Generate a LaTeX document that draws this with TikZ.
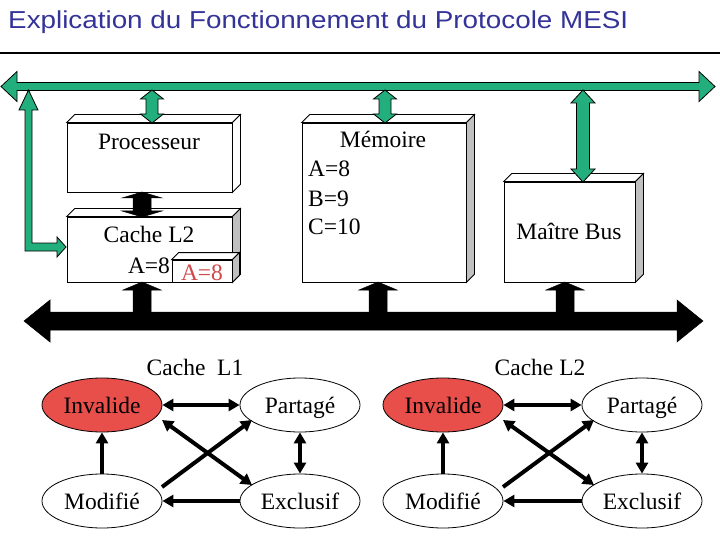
\documentclass[tikz,border=0pt]{standalone}
\usepackage{graphicx}
\usepackage{fontspec}
\setmainfont{Liberation Serif}
\newfontfamily\titlefont{Liberation Sans}
\usetikzlibrary{arrows.meta,shapes.geometric,calc}
\definecolor{busgreen}{RGB}{35,175,125}
\definecolor{titleblue}{RGB}{51,51,153}
\definecolor{statered}{RGB}{232,78,74}
\definecolor{textred}{RGB}{208,72,72}
\definecolor{sidegrey}{RGB}{192,192,192}
\newcommand{\hbiarrow}[7]{%
  \filldraw[#1] (#2,#4) -- ({#2+#7},{#4-#6}) -- ({#2+#7},{#4-#5}) -- ({#3-#7},{#4-#5}) -- ({#3-#7},{#4-#6}) -- (#3,#4) -- ({#3-#7},{#4+#6}) -- ({#3-#7},{#4+#5}) -- ({#2+#7},{#4+#5}) -- ({#2+#7},{#4+#6}) -- cycle;}
\newcommand{\vbiarrow}[7]{%
  \filldraw[#1] (#2,#3) -- ({#2+#6},{#3+#7}) -- ({#2+#5},{#3+#7}) -- ({#2+#5},{#4-#7}) -- ({#2+#6},{#4-#7}) -- (#2,#4) -- ({#2-#6},{#4-#7}) -- ({#2-#5},{#4-#7}) -- ({#2-#5},{#3+#7}) -- ({#2-#6},{#3+#7}) -- cycle;}
\newcommand{\vuparrow}[7]{%
  \filldraw[#1] (#2,#3) -- ({#2+#6},{#3+#7}) -- ({#2+#5},{#3+#7}) -- ({#2+#5},#4) -- ({#2-#5},#4) -- ({#2-#5},{#3+#7}) -- ({#2-#6},{#3+#7}) -- cycle;}
\newcommand{\boxfaces}[3]{%
  \filldraw[facestyle, fill=white] (#1.north west) -- ++(#2,-#2) -- ($(#1.north east)+(#2,-#2)$) -- (#1.north east) -- cycle;
  \filldraw[facestyle, fill=#3] (#1.north east) -- ++(#2,-#2) -- ($(#1.south east)+(#2,-#2)$) -- (#1.south east) -- cycle;}
\tikzset{
  facestyle/.style={draw=black, line width=0.8},
  greenarrow/.style={fill=busgreen, draw=black, line width=0.8},
  blackarrow/.style={fill=black, draw=black, line width=0.5},
  boxnode/.style={draw=black, fill=white, line width=0.8, rectangle, inner sep=0pt},
  txt/.style={inner sep=0pt, font=\fontsize{23.5}{28}\selectfont},
  state/.style={ellipse, draw=black, line width=0.8, fill=white, minimum width=120pt, minimum height=54pt, inner sep=0pt, text height=21pt, text depth=5pt, font=\fontsize{23.5}{28}\selectfont},
  trans/.style={line width=4pt, {Triangle[length=11pt,width=12pt]}-{Triangle[length=11pt,width=12pt]}},
  transone/.style={line width=4pt, -{Triangle[length=11pt,width=12pt]}}
}
\begin{document}
\begin{tikzpicture}[x=1pt,y=-1pt]
\useasboundingbox (0,0) rectangle (720,540);
% title
\node[anchor=base west, inner sep=0pt, text=titleblue] (title) at (8,29)
  {\resizebox{620pt}{\height}{\titlefont\fontsize{24.5}{28}\selectfont Explication du Fonctionnement du Protocole MESI}};
\draw[line width=1.2] (0,53) -- (720,53);

% boxes
\node[boxnode, minimum width=165pt, minimum height=69pt] (proc) at (149.5,157.5) {};
\boxfaces{proc}{8}{white}
\node[boxnode, minimum width=165pt, minimum height=65pt] (cache) at (149.5,249.5) {};
\boxfaces{cache}{8}{sidegrey}
\node[boxnode, minimum width=60pt, minimum height=22pt] (redbox) at (202,271) {};
\boxfaces{redbox}{7}{sidegrey}
\node[boxnode, minimum width=164pt, minimum height=159pt] (mem) at (384,202.5) {};
\boxfaces{mem}{8}{sidegrey}
\node[boxnode, minimum width=131pt, minimum height=100pt] (busm) at (569.5,232) {};
\boxfaces{busm}{8}{sidegrey}

% box texts
\node[txt, anchor=base] (proct) at (149,150) {Processeur};
\node[txt, anchor=base] (cachet) at (149,243) {Cache L2};
\node[txt, anchor=base] (cachea) at (149,273) {A=8};
\node[txt, anchor=base, text=textred] (redt) at (202,280) {A=8};
\node[txt, anchor=base] (memt) at (383,148) {Mémoire};
\node[txt, anchor=base west] (mema) at (308,177) {A=8};
\node[txt, anchor=base west] (memb) at (308,207) {B=9};
\node[txt, anchor=base west] (memc) at (308,235) {C=10};
\node[txt, anchor=base] (busmt) at (569,240) {Maître Bus};

% green bus and arrows
\hbiarrow{greenarrow}{1}{715}{86.5}{4}{15}{16}
\vbiarrow{greenarrow}{152}{90}{123}{6}{11.5}{9}
\vbiarrow{greenarrow}{385}{90}{123}{6}{11.5}{9}
\vbiarrow{greenarrow}{583}{90}{182}{6.5}{12}{13}
\filldraw[greenarrow] (28.5,90) -- (38,110) -- (32,110) -- (32,243) -- (57,243) -- (57,237) -- (66,247) -- (57,257) -- (57,251) -- (25,251) -- (25,110) -- (19,110) -- cycle;

% black arrows
\vbiarrow{blackarrow}{142}{192}{217}{9}{20}{6}
\vuparrow{blackarrow}{142}{282}{315}{9}{19}{8}
\vuparrow{blackarrow}{378}{282}{315}{9}{19}{8}
\vuparrow{blackarrow}{565}{282}{315}{9}{19}{8}
\hbiarrow{blackarrow}{24}{703}{321}{9}{21}{26}

% state diagrams
\node[txt, anchor=base] (l1t) at (195,375) {Cache\ \ L1};
\node[txt, anchor=base] (l2t) at (540,375) {Cache L2};

\node[state, fill=statered] (inv1) at (102,405) {Invalide};
\node[state] (par1) at (300,405) {Partagé};
\node[state] (mod1) at (102,501) {Modifié};
\node[state] (exc1) at (300,501) {Exclusif};

\node[state, fill=statered] (inv2) at (443,405) {Invalide};
\node[state] (par2) at (642,405) {Partagé};
\node[state] (mod2) at (443,501) {Modifié};
\node[state] (exc2) at (642,501) {Exclusif};

\foreach \s in {1,2} {
  \draw[trans] (inv\s.east) -- (par\s.west);
  \draw[trans] ($(inv\s.center)+(60,15)$) -- ($(exc\s.center)+(-48,-16)$);
  \draw[transone] ($(mod\s.center)+(60,-14)$) -- ($(par\s.center)+(-48,15)$);
  \draw[transone] (mod\s.north) -- (inv\s.south);
  \draw[trans] (par\s.south) -- (exc\s.north);
  \draw[transone] (exc\s.west) -- (mod\s.east);
}
\end{tikzpicture}
\end{document}
